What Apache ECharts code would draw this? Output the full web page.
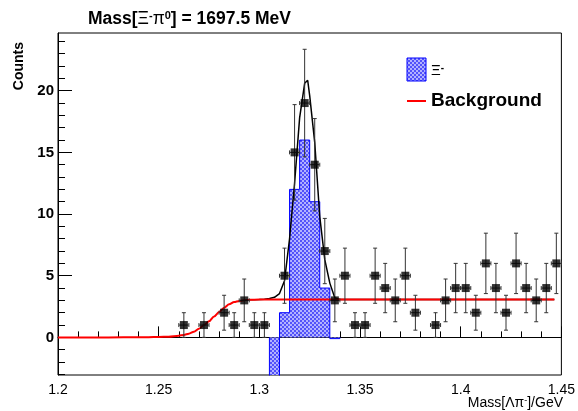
<!DOCTYPE html>
<html>
<head>
<meta charset="utf-8">
<script src="https://cdn.jsdelivr.net/npm/echarts@6/dist/echarts.min.js"></script>
<style>
  html, body { margin: 0; padding: 0; background: #fff; }
  #chart { width: 578px; height: 411px; }
</style>
</head>
<body>
<div id="chart"></div>
<script>
// Measured Λπ⁻ invariant mass spectrum (non-empty bins only), bin width 5 MeV
const binWidth = 0.005;
const pointX = [1.2625, 1.2725, 1.2825, 1.2875, 1.2925, 1.2975, 1.3025, 1.3125, 1.3175, 1.3225,
                1.3275, 1.3325, 1.3375, 1.3425, 1.3475, 1.3525, 1.3575, 1.3625, 1.3675, 1.3725,
                1.3775, 1.3875, 1.3925, 1.3975, 1.4025, 1.4075, 1.4125, 1.4175, 1.4225, 1.4275,
                1.4325, 1.4375, 1.4425, 1.4475];
const pointY = [1, 1, 2, 1, 3, 1, 1, 5, 15, 19,
                14, 7, 3, 5, 1, 1, 5, 4, 3, 5,
                2, 1, 3, 4, 4, 2, 6, 4, 2, 6,
                4, 3, 4, 6];
const pointErr = [1, 1, 1.414, 1, 1.732, 1, 1, 2.236, 3.873, 4.359,
                  3.742, 2.646, 1.732, 2.236, 1, 1, 2.236, 2, 1.732, 2.236,
                  1.414, 1, 1.732, 2, 2, 1.414, 2.449, 2, 1.414, 2.449,
                  2, 1.732, 2, 2.449];

// Ξ⁻ signal histogram
const sigX = [1.3075, 1.3125, 1.3175, 1.3225, 1.3275, 1.3325, 1.3375];
const sigY = [-6, 2, 12, 16, 11, 4, -0.1];

// Total fit (signal + background) around the peak
const fitX = [1.2950, 1.3000, 1.3025, 1.3050, 1.3075, 1.3100, 1.3125, 1.3150, 1.3175, 1.3200,
              1.3225, 1.3240, 1.3250, 1.3275, 1.3300, 1.3325, 1.3350, 1.3375, 1.3400, 1.3450, 1.4465];
const fitY = [3.05, 3.07, 3.10, 3.15, 3.25, 3.55, 4.6, 8.0, 12.5, 17.8,
              20.6, 20.85, 19.6, 15.8, 9.8, 6.3, 4.4, 3.2, 3.08, 3.07, 3.07];

// Background threshold curve
const bgX = [1.2000, 1.2250, 1.2400, 1.2450, 1.2500, 1.2550, 1.2600, 1.2625, 1.2650, 1.2675,
             1.2700, 1.2725, 1.2750, 1.2775, 1.2800, 1.2825, 1.2850, 1.2875, 1.2900, 1.2950,
             1.3000, 1.4465];
const bgY = [0.0, 0.0, 0.01, 0.02, 0.04, 0.06, 0.14, 0.2, 0.3, 0.46,
             0.7, 1.0, 1.3, 1.7, 2.05, 2.4, 2.68, 2.87, 2.96, 3.05,
             3.07, 3.07];

// Axis ticks
const yMajorTicks = [0, 5, 10, 15, 20];
const yMinorTicks = [-3, -2, -1, 1, 2, 3, 4, 6, 7, 8, 9, 11, 12, 13, 14, 16, 17, 18, 19, 21, 22, 23, 24];

// Dotted blue fill, like a ROOT 3001 hatch
function makeHatch() {
  const c = document.createElement('canvas');
  c.width = 4; c.height = 4;
  const g = c.getContext('2d');
  g.fillStyle = '#b2b2ff';
  g.fillRect(0, 0, 4, 4);
  g.fillStyle = '#5252fa';
  g.fillRect(0, 0, 2, 2);
  g.fillRect(2, 2, 2, 2);
  return c;
}
const hatch = { image: makeHatch(), repeat: 'repeat' };

const zip = (a, b) => a.map((v, i) => [v, b[i]]);

// Step outline of the signal histogram
const sigOutline = [[sigX[0] - binWidth / 2, 0]];
sigX.forEach((x, i) => {
  sigOutline.push([x - binWidth / 2, sigY[i]]);
  sigOutline.push([x + binWidth / 2, sigY[i]]);
});
sigOutline.push([sigX[sigX.length - 1] + binWidth / 2, 0]);

const chart = echarts.init(document.getElementById('chart'), null, { renderer: 'canvas' });

const FONT = 'Liberation Sans, Arial, Helvetica, sans-serif';

chart.setOption({
  animation: false,
  backgroundColor: '#fff',
  grid: {
    left: 58, right: 16, top: 33, bottom: 36,
    show: true, borderColor: '#000', borderWidth: 1, backgroundColor: 'transparent'
  },
  xAxis: {
    type: 'value', min: 1.2, max: 1.45, interval: 0.05,
    axisLine: { show: true, lineStyle: { color: '#000', width: 1 } },
    axisTick: { show: true, inside: true, length: 11, lineStyle: { color: '#000' } },
    minorTick: { show: true, splitNumber: 5, length: 6, lineStyle: { color: '#000' } },
    axisLabel: { color: '#000', fontFamily: FONT, fontSize: 14, margin: 8 },
    splitLine: { show: false }
  },
  yAxis: [{
    type: 'value', min: -3.05, max: 24.68,
    axisLine: { show: true, lineStyle: { color: '#000', width: 1 } },
    axisTick: { show: true, inside: true, length: 14, customValues: yMajorTicks, lineStyle: { color: '#000' } },
    axisLabel: { color: '#000', fontFamily: FONT, fontSize: 15, fontWeight: 'bold', margin: 4, customValues: yMajorTicks },
    splitLine: { show: false }
  }, {
    type: 'value', min: -3.05, max: 24.68, position: 'left',
    axisLine: { show: false },
    axisTick: { show: true, inside: true, length: 7, customValues: yMinorTicks, lineStyle: { color: '#000' } },
    axisLabel: { show: false },
    splitLine: { show: false }
  }],
  series: [
    {
      name: 'signal',
      type: 'custom',
      clip: true,
      z: 1,
      data: zip(sigX, sigY),
      renderItem(params, api) {
        const x = api.value(0), v = api.value(1);
        const a = api.coord([x - binWidth / 2, 0]);
        const b = api.coord([x + binWidth / 2, v]);
        return {
          type: 'rect',
          shape: { x: a[0], y: Math.min(a[1], b[1]), width: b[0] - a[0], height: Math.abs(b[1] - a[1]) },
          style: { fill: hatch, stroke: null }
        };
      }
    },
    {
      name: 'signal outline',
      type: 'line',
      z: 2,
      data: sigOutline,
      showSymbol: false,
      lineStyle: { color: '#0000ff', width: 1 }
    },
    {
      name: 'fit',
      type: 'line',
      z: 3,
      data: zip(fitX, fitY),
      showSymbol: false,
      lineStyle: { color: '#000', width: 1.5 }
    },
    {
      name: 'Background',
      type: 'line',
      z: 4,
      data: zip(bgX, bgY),
      showSymbol: false,
      smooth: 0.3,
      smoothMonotone: 'x',
      lineStyle: { color: '#ff0000', width: 2 }
    },
    {
      name: 'errors',
      type: 'custom',
      z: 5,
      data: pointX.map((x, i) => [x, pointY[i], pointErr[i]]),
      renderItem(params, api) {
        const x = api.value(0), y = api.value(1), e = api.value(2);
        const t = api.coord([x, y + e]);
        const b = api.coord([x, y - e]);
        const l = api.coord([x - binWidth / 2, y]);
        const r = api.coord([x + binWidth / 2, y]);
        const cap = 2;
        const st = { stroke: '#333', lineWidth: 1 };
        const seg = (x1, y1, x2, y2) => ({ type: 'line', shape: { x1, y1, x2, y2 }, style: st });
        return {
          type: 'group',
          children: [
            seg(t[0], t[1], b[0], b[1]),
            seg(t[0] - cap, t[1], t[0] + cap, t[1]),
            seg(b[0] - cap, b[1], b[0] + cap, b[1]),
            seg(l[0], l[1], r[0], r[1]),
            seg(l[0], l[1] - cap, l[0], l[1] + cap),
            seg(r[0], r[1] - cap, r[0], r[1] + cap)
          ]
        };
      }
    },
    {
      name: 'data',
      type: 'scatter',
      z: 6,
      symbol: 'rect',
      symbolSize: 8,
      itemStyle: { color: '#000' },
      data: zip(pointX, pointY)
    }
  ],
  graphic: [
    {
      type: 'text', x: 88, y: 19,
      style: {
        text: '{b|Mass[}{g|Ξ}{s|-}{g|π}{s|0}{b|] = 1697.5 MeV}',
        verticalAlign: 'middle', align: 'left',
        rich: {
          b: { fontFamily: FONT, fontSize: 17.5, fontWeight: 'bold', fill: '#000', verticalAlign: 'bottom' },
          g: { fontFamily: FONT, fontSize: 17.5, fill: '#000', verticalAlign: 'bottom' },
          s: { fontFamily: FONT, fontSize: 11, fontWeight: 'bold', fill: '#000', verticalAlign: 'top' }
        }
      }
    },
    {
      type: 'text', x: 19, y: 42, rotation: Math.PI / 2,
      style: {
        text: 'Counts', fontFamily: FONT, fontSize: 14, fontWeight: 'bold', fill: '#000',
        align: 'right', verticalAlign: 'middle'
      }
    },
    {
      type: 'text', x: 563, y: 403,
      style: {
        text: '{n|Mass[Λπ}{s|-}{n|]/GeV}',
        align: 'right', verticalAlign: 'middle',
        rich: {
          n: { fontFamily: FONT, fontSize: 14, fill: '#000', verticalAlign: 'bottom' },
          s: { fontFamily: FONT, fontSize: 9, fill: '#000', verticalAlign: 'top' }
        }
      }
    },
    // legend
    {
      type: 'rect', shape: { x: 407, y: 58, width: 19, height: 23 },
      style: { fill: hatch, stroke: '#0000ff', lineWidth: 1 }
    },
    {
      type: 'text', x: 431, y: 71,
      style: {
        text: '{g|Ξ}{s|-}', align: 'left', verticalAlign: 'middle',
        rich: {
          g: { fontFamily: FONT, fontSize: 15, fill: '#000', verticalAlign: 'bottom' },
          s: { fontFamily: FONT, fontSize: 10, fontWeight: 'bold', fill: '#000', verticalAlign: 'top' }
        }
      }
    },
    {
      type: 'line', shape: { x1: 407, y1: 101, x2: 426, y2: 101 },
      style: { stroke: '#ff0000', lineWidth: 2 }
    },
    {
      type: 'text', x: 431, y: 101,
      style: {
        text: 'Background', fontFamily: FONT, fontSize: 19, fontWeight: 'bold', fill: '#000',
        align: 'left', verticalAlign: 'middle'
      }
    }
  ]
});
</script>
</body>
</html>
